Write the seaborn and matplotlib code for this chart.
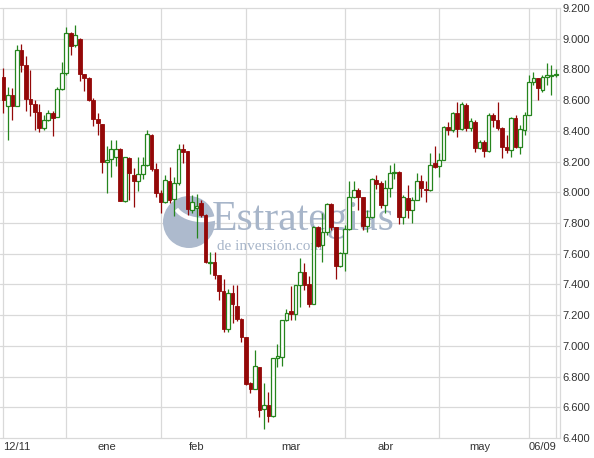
import matplotlib
matplotlib.use('Agg')
import matplotlib.pyplot as plt
from matplotlib.patches import Circle, Arc
from matplotlib.transforms import IdentityTransform
import seaborn as sns
import pandas as pd
import numpy as np

# ---- data ----
opens = [8750, 8563, 8635, 8563, 8928, 8830, 8607, 8576, 8524, 8417,
         8472, 8515, 8489, 8672, 8776, 9033, 8961, 9000, 8772, 8743,
         8602, 8476, 8446, 8196, 8214, 8230, 8279, 7946, 8222, 8113,
         8076, 8120, 8178, 8374, 8150, 7998, 7939, 8070, 7954, 8059,
         8280, 8270, 7885, 7900, 7932, 7852, 7537, 7546, 7459, 7357,
         7111, 7344, 7257, 7176, 7057, 6757, 6720, 6865, 6590, 6618,
         6545, 6922, 6930, 7166, 7226, 7211, 7396, 7483, 7400, 7276,
         7772, 7657, 7743, 7924, 7772, 7520, 7607, 7759, 7972, 8015,
         7967, 7780, 7837, 8080, 8059, 7917, 8026, 8124, 8135, 7837,
         7961, 7885, 7950, 8076, 8020, 8016, 8189, 8172, 8211, 8423,
         8406, 8514, 8410, 8568, 8416, 8460, 8286, 8330, 8271, 8503,
         8471, 8416, 8293, 8276, 8481, 8297, 8406, 8503, 8720, 8742,
         8666, 8752, 8758, 8762]
highs = [8809, 8685, 8678, 8960, 8967, 8889, 8798, 8600, 8576, 8505,
         8537, 8526, 8685, 8846, 9076, 9042, 9091, 9004, 8772, 8750,
         8613, 8515, 8446, 8300, 8340, 8340, 8290, 8232, 8232, 8156,
         8228, 8228, 8406, 8380, 8193, 8015, 8113, 8167, 8102, 8315,
         8315, 8270, 7983, 7990, 7950, 7860, 7611, 7611, 7459, 7437,
         7372, 7394, 7394, 7183, 7057, 6763, 6974, 6865, 6760, 6700,
         6925, 7012, 7166, 7240, 7389, 7396, 7570, 7541, 7454, 7780,
         7780, 7863, 7933, 7928, 7776, 7613, 7787, 8076, 8070, 8026,
         7972, 7885, 8091, 8113, 8070, 8080, 8178, 8193, 8141, 7983,
         8048, 7972, 8124, 8113, 8070, 8254, 8304, 8254, 8432, 8460,
         8525, 8590, 8590, 8578, 8480, 8470, 8340, 8340, 8514, 8514,
         8590, 8427, 8373, 8492, 8503, 8438, 8525, 8763, 8785, 8742,
         8763, 8839, 8828, 8800]
lows = [8515, 8341, 8467, 8560, 8780, 8526, 8493, 8402, 8390, 8405,
        8461, 8363, 8487, 8665, 8765, 8896, 8946, 8722, 8657, 8591,
        8428, 8374, 8128, 7998, 8100, 8170, 7940, 7935, 7950, 7906,
        8011, 8087, 8170, 8141, 7972, 7863, 7928, 7928, 7846, 8048,
        8189, 7852, 7863, 7700, 7840, 7540, 7470, 7437, 7300, 7089,
        7089, 7148, 7165, 7024, 6746, 6692, 6720, 6539, 6459, 6505,
        6540, 6860, 6870, 7161, 7167, 7167, 7254, 7363, 7254, 7272,
        7641, 7548, 7724, 7754, 7433, 7511, 7485, 7754, 7965, 7885,
        7754, 7743, 7830, 8019, 7896, 7863, 7967, 8087, 7793, 7793,
        7830, 7800, 7950, 7972, 7939, 8005, 8156, 8102, 8207, 8373,
        8395, 8358, 8406, 8400, 8400, 8265, 8280, 8232, 8265, 8427,
        8406, 8222, 8254, 8232, 8286, 8250, 8373, 8503, 8698, 8601,
        8655, 8698, 8633, 8750]
closes = [8602, 8635, 8563, 8928, 8826, 8607, 8576, 8520, 8417, 8472,
          8515, 8483, 8672, 8776, 9037, 8950, 9020, 8772, 8743, 8602,
          8476, 8450, 8200, 8211, 8279, 8279, 7946, 8228, 8124, 8076,
          8120, 8178, 8378, 8150, 7998, 7939, 8080, 7950, 8059, 8280,
          8265, 7889, 7939, 7912, 7852, 7546, 7548, 7459, 7357, 7111,
          7344, 7270, 7176, 7057, 6752, 6720, 6872, 6583, 6618, 6545,
          6922, 6932, 7166, 7213, 7211, 7396, 7483, 7396, 7276, 7772,
          7650, 7743, 7924, 7772, 7520, 7607, 7759, 7972, 8015, 7972,
          7780, 7837, 8085, 8054, 7917, 8026, 8124, 8135, 7837, 7967,
          7885, 7950, 8076, 8026, 8015, 8178, 8167, 8211, 8423, 8406,
          8514, 8410, 8575, 8416, 8465, 8286, 8330, 8271, 8503, 8471,
          8416, 8293, 8276, 8481, 8297, 8410, 8503, 8720, 8742, 8676,
          8752, 8763, 8762, 8768]

month_starts = [0, 14, 35, 54, 76, 97, 117, 123]      # vertical grid lines
xtick_pos = [0, 23, 43, 64, 85, 106, 123]
xtick_labels = ['12/11', 'ene', 'feb', 'mar', 'abr', 'may', '06/09']
ytick_vals = [6400, 6600, 6800, 7000, 7200, 7400, 7600, 7800,
              8000, 8200, 8400, 8600, 8800, 9000, 9200]
ytick_labels = ['6.400', '6.600', '6.800', '7.000', '7.200', '7.400', '7.600',
                '7.800', '8.000', '8.200', '8.400', '8.600', '8.800', '9.000', '9.200']

# ---- styling ----
sns.set_theme(style='white')
plt.rcParams['font.family'] = ['Liberation Sans', 'DejaVu Sans']

GREEN = '#25851d'
RED = '#940808'
GRID = '#d9d9d9'
WM = '#a7b5c9'

W, H = 594, 458
fig = plt.figure(figsize=(W / 100, H / 100), dpi=100)
fig.patch.set_facecolor('white')
ax = fig.add_axes([0, 1 - 438.2 / H, 560 / W, (438.2 - 7.8) / H])
ax.set_facecolor('white')

df = pd.DataFrame({'i': np.arange(len(opens)), 'o': opens, 'h': highs,
                   'l': lows, 'c': closes})
df['up'] = df['c'] >= df['o']
df['bottom'] = df[['o', 'c']].min(axis=1)
df['height'] = (df['c'] - df['o']).abs()

# grid
for v in ytick_vals:
    ax.axhline(v, color=GRID, lw=0.9, zorder=0.5, clip_on=False)
for m in month_starts:
    ax.axvline(m, color=GRID, lw=0.9, zorder=0.5)

# watermark (behind candles)
idt = IdentityTransform()
ax.add_patch(Circle((189, H - 222), 26, transform=idt, facecolor='#adbacd',
                    edgecolor='none', zorder=1))
ax.add_patch(Arc((203, H - 202), 58, 36, theta1=195, theta2=345, transform=idt,
                 color='white', lw=3.2, zorder=1.1))
ax.text(212, H - 230, 'Estrategias', transform=idt, family='Liberation Serif',
        fontsize=30, color=WM, ha='left', va='baseline', zorder=1.2)
ax.text(217, H - 250, 'de inversión.com', transform=idt, family='Liberation Serif',
        fontsize=11, color=WM, ha='left', va='baseline', zorder=1.2)

# candles
up = df[df['up']]
dn = df[~df['up']]
ax.vlines(up['i'], up['l'], up['h'], color=GREEN, lw=0.9, zorder=2)
ax.vlines(dn['i'], dn['l'], dn['h'], color=RED, lw=0.9, zorder=2)
ax.bar(up['i'], up['height'].clip(lower=4), bottom=up['bottom'], width=0.82,
       facecolor='white', edgecolor=GREEN, linewidth=0.9, zorder=3)
ax.bar(dn['i'], dn['height'].clip(lower=4), bottom=dn['bottom'], width=0.82,
       facecolor=RED, edgecolor=RED, linewidth=0.6, zorder=3)

ax.set_xlim(-0.757, 123.9)
ax.set_ylim(6400, 9200)

for s in ['left', 'top', 'bottom']:
    ax.spines[s].set_visible(False)
ax.spines['right'].set_color(GRID)
ax.spines['right'].set_linewidth(0.9)

ax.yaxis.tick_right()
ax.set_yticks(ytick_vals)
ax.set_yticklabels(ytick_labels)
ax.set_xticks(xtick_pos)
ax.set_xticklabels(xtick_labels)
ax.tick_params(axis='both', length=0, labelsize=8, colors='#333333')
ax.tick_params(axis='y', pad=1.5)
ax.tick_params(axis='x', pad=2.5)
xl = ax.get_xticklabels()
xl[0].set_ha('left')
xl[-1].set_ha('right')
ax.set_xlabel('')
ax.set_ylabel('')

fig.savefig('out.png', dpi=100, facecolor='white')
